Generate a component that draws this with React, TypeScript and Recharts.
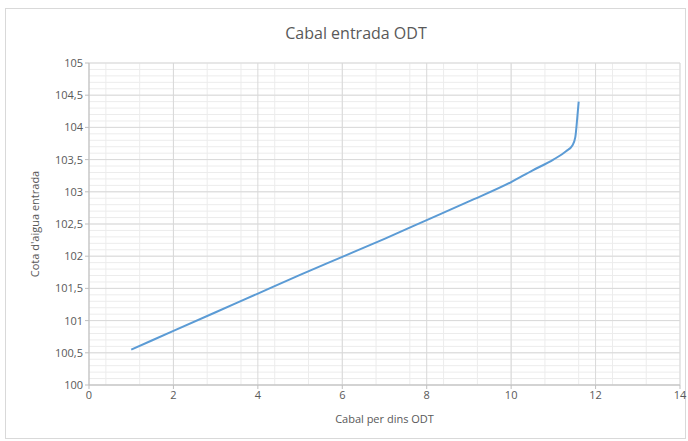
import React from 'react'
import { CartesianGrid, Label, Line, LineChart, XAxis, YAxis } from 'recharts'

// Cabal (x) vs cota (y)
const cabal = [1, 2, 3, 4, 5, 6, 7, 8, 9, 10, 10.5, 11, 11.3, 11.45, 11.52, 11.56, 11.6]
const cota = [100.55, 100.84, 101.13, 101.42, 101.71, 101.99, 102.27, 102.56, 102.85, 103.15, 103.33, 103.5, 103.63, 103.72, 103.85, 104.1, 104.4]

const xTicks = [0, 2, 4, 6, 8, 10, 12, 14]
const yTicks = [100, 100.5, 101, 101.5, 102, 102.5, 103, 103.5, 104, 104.5, 105]
const xMinor = Array.from({ length: 36 }, (_, i) => Math.round(i * 0.4 * 10) / 10)
const yMinor = Array.from({ length: 51 }, (_, i) => Math.round((100 + i * 0.1) * 10) / 10)

const data = cabal.map((x, i) => ({ x, y: cota[i] }))

const fmt = (v: number): string => String(v).replace('.', ',')

const font = '"Open Sans", "Noto Sans", sans-serif'
const textColor = '#595959'

const App = () => {
    return (
        <div style={{ position: 'absolute', left: 0, top: 0, width: 688, height: 441, background: '#fff', fontFamily: font }}>
            <div style={{ position: 'absolute', left: 5, top: 8, width: 681, height: 431, border: '1px solid #d9d9d9', boxSizing: 'border-box' }} />
            <div style={{ position: 'absolute', left: 0, top: 22, width: 712, textAlign: 'center', fontSize: 16, color: textColor }}>
                Cabal entrada ODT
            </div>
            <div style={{ position: 'absolute', left: 0, top: 0 }}>
                <LineChart width={688} height={441} data={data} margin={{ top: 63, right: 8, bottom: 26, left: 29 }}>
                    <CartesianGrid stroke="#ececec" strokeWidth={1} verticalValues={xMinor} horizontalValues={yMinor} />
                    <CartesianGrid stroke="#d9d9d9" strokeWidth={1} />
                    <XAxis
                        dataKey="x"
                        type="number"
                        domain={[0, 14]}
                        ticks={xTicks}
                        tickFormatter={fmt}
                        stroke="#bfbfbf"
                        tickSize={4}
                        height={30}
                        tick={{ fill: textColor, fontSize: 11, fontFamily: font }}
                    >
                        <Label value="Cabal per dins ODT" position="insideBottom" offset={-8} style={{ fill: textColor, fontSize: 11, fontFamily: font }} />
                    </XAxis>
                    <YAxis
                        type="number"
                        domain={[100, 105]}
                        ticks={yTicks}
                        tickFormatter={fmt}
                        stroke="#bfbfbf"
                        tickSize={4}
                        width={60}
                        interval={0}
                        tick={{ fill: textColor, fontSize: 11, fontFamily: font }}
                    >
                        <Label value="Cota d'aigua entrada" angle={-90} position="insideLeft" offset={6} style={{ fill: textColor, fontSize: 11, fontFamily: font, textAnchor: 'middle' }} />
                    </YAxis>
                    <Line
                        type="monotone"
                        dataKey="y"
                        stroke="#5b9bd5"
                        strokeWidth={2}
                        dot={false}
                        isAnimationActive={false}
                    />
                </LineChart>
            </div>
        </div>
    )
}

export default App
